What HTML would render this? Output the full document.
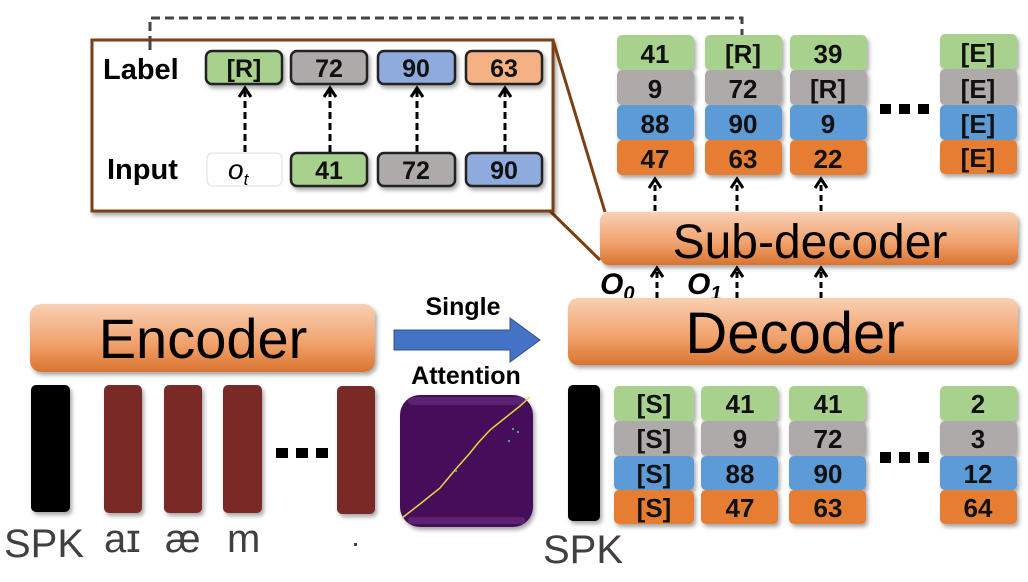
<!DOCTYPE html>
<html><head><meta charset="utf-8"><style>
html,body{margin:0;padding:0;background:#fff}
svg{display:block}
text{font-family:"Liberation Sans",sans-serif}
</style></head><body>
<svg width="1028" height="582" viewBox="0 0 1028 582" xmlns="http://www.w3.org/2000/svg">
<defs>
<linearGradient id="og" x1="0" y1="0" x2="0" y2="1">
<stop offset="0" stop-color="#f8d0b4"/><stop offset="0.6" stop-color="#f0a06a"/><stop offset="1" stop-color="#d9732f"/>
</linearGradient>
<filter id="sh" x="-10%" y="-10%" width="130%" height="140%"><feDropShadow dx="2" dy="3" stdDeviation="2" flood-opacity="0.35"/></filter>
<marker id="ah" markerWidth="14" markerHeight="16" refX="11" refY="8" orient="auto" markerUnits="userSpaceOnUse" viewBox="0 0 14 16">
<path d="M2,2 L11,8 L2,14" fill="none" stroke="#000" stroke-width="3"/></marker>
</defs>

<path d="M150,45 V18 H742 V35" fill="none" stroke="#444" stroke-width="3" stroke-dasharray="9,5"/>

<path d="M553,40 L605,212 L600,260 L550,211 H92 V40 Z" fill="#fff" stroke="none"/>
<path d="M550,211 L600,260" stroke="#7b3f12" stroke-width="3" fill="none"/>
<rect x="92" y="40" width="461" height="171" fill="#fff" stroke="#7b3f12" stroke-width="3" filter="url(#sh)"/>
<path d="M553,40 L605,212" stroke="#7b3f12" stroke-width="3"/>
<path d="M150,40 V50" stroke="#444" stroke-width="3"/>

<text x="103" y="79" font-size="29" font-weight="bold">Label</text>
<text x="107" y="179" font-size="29" font-weight="bold">Input</text>
<g stroke="#222" stroke-width="2.5">
<rect x="206" y="51" width="76" height="33" rx="6" fill="#a9d18e" filter="url(#sh)"/>
<rect x="291" y="51" width="76" height="33" rx="6" fill="#aeaaaa" filter="url(#sh)"/>
<rect x="378" y="51" width="77" height="33" rx="6" fill="#8faadc" filter="url(#sh)"/>
<rect x="466" y="51" width="76" height="33" rx="6" fill="#f4b183" filter="url(#sh)"/>
<rect x="207" y="153" width="75" height="33" rx="6" fill="#fff" stroke="#ddd" stroke-width="1"/>
<rect x="291" y="153" width="76" height="33" rx="6" fill="#a9d18e" filter="url(#sh)"/>
<rect x="378" y="153" width="77" height="33" rx="6" fill="#aeaaaa" filter="url(#sh)"/>
<rect x="466" y="153" width="76" height="33" rx="6" fill="#8faadc" filter="url(#sh)"/>
</g>
<g font-size="25" font-weight="bold" text-anchor="middle" fill="#111">
<text x="244" y="77">[R]</text><text x="329" y="77">72</text><text x="416" y="77">90</text><text x="504" y="77">63</text>
<text x="329" y="179">41</text><text x="416" y="179">72</text><text x="504" y="179">90</text>
</g>
<text x="228" y="179" font-size="28" font-style="italic" font-family="Liberation Serif,serif">o<tspan font-size="17" dy="6">t</tspan></text>
<g stroke="#000" stroke-width="3" stroke-dasharray="7,4" marker-end="url(#ah)">
<line x1="245" y1="152" x2="245" y2="88"/><line x1="330" y1="152" x2="330" y2="88"/>
<line x1="417" y1="152" x2="417" y2="88"/><line x1="505" y1="152" x2="505" y2="88"/>
</g>

<g filter="url(#sh)">
<g fill="#a9d18e"><rect x="617" y="35" width="77" height="35" rx="5"/><rect x="705" y="35" width="77" height="35" rx="5"/><rect x="790" y="35" width="77" height="35" rx="5"/><rect x="940" y="34" width="77" height="35" rx="5"/></g>
<g fill="#aeaaaa"><rect x="617" y="70" width="77" height="35" rx="5"/><rect x="705" y="70" width="77" height="35" rx="5"/><rect x="790" y="70" width="77" height="35" rx="5"/><rect x="940" y="69" width="77" height="36" rx="5"/></g>
<g fill="#5b9bd5"><rect x="617" y="105" width="77" height="35" rx="5"/><rect x="705" y="105" width="77" height="35" rx="5"/><rect x="790" y="105" width="77" height="35" rx="5"/><rect x="940" y="105" width="77" height="35" rx="5"/></g>
<g fill="#e57e30"><rect x="617" y="140" width="77" height="35" rx="5"/><rect x="705" y="140" width="77" height="35" rx="5"/><rect x="790" y="140" width="77" height="35" rx="5"/><rect x="940" y="140" width="77" height="34" rx="5"/></g>
</g>
<g font-size="26" font-weight="bold" text-anchor="middle" fill="#111">
<text x="655" y="63">41</text><text x="743" y="63">[R]</text><text x="828" y="63">39</text><text x="978" y="62">[E]</text>
<text x="655" y="98">9</text><text x="743" y="98">72</text><text x="828" y="98">[R]</text><text x="978" y="98">[E]</text>
<text x="655" y="133">88</text><text x="743" y="133">90</text><text x="828" y="133">9</text><text x="978" y="133">[E]</text>
<text x="655" y="168">47</text><text x="743" y="168">63</text><text x="828" y="168">22</text><text x="978" y="167">[E]</text>
</g>
<g fill="#000"><rect x="880" y="104" width="11" height="10"/><rect x="899" y="104" width="11" height="10"/><rect x="918" y="104" width="11" height="10"/></g>

<g stroke="#000" stroke-width="3" stroke-dasharray="6,4" marker-end="url(#ah)">
<line x1="655" y1="211" x2="655" y2="179"/><line x1="737" y1="211" x2="737" y2="179"/><line x1="821" y1="211" x2="821" y2="179"/>
<line x1="657" y1="298" x2="657" y2="268"/><line x1="737" y1="298" x2="737" y2="268"/><line x1="821" y1="298" x2="821" y2="268"/>
</g>

<rect x="600" y="212" width="418" height="53" rx="9" fill="url(#og)" filter="url(#sh)"/>
<text x="810" y="258" font-size="48" text-anchor="middle" fill="#000">Sub-decoder</text>
<text x="600" y="294" font-size="30" font-weight="bold" font-style="italic" font-family="Liberation Serif,serif">O<tspan font-size="20" dy="6">0</tspan></text>
<text x="687" y="294" font-size="30" font-weight="bold" font-style="italic" font-family="Liberation Serif,serif">O<tspan font-size="20" dy="6">1</tspan></text>

<rect x="568" y="298" width="450" height="67" rx="10" fill="url(#og)" filter="url(#sh)"/>
<text x="795" y="353" font-size="58" text-anchor="middle" fill="#000">Decoder</text>

<rect x="30" y="304" width="345" height="68" rx="11" fill="url(#og)" filter="url(#sh)"/>
<text x="203" y="358" font-size="56" text-anchor="middle" fill="#000">Encoder</text>

<path d="M394,330 H510 V318 L540,340 L510,362 V350 H394 Z" fill="#4472c4" stroke="#2f528f" stroke-width="1"/>
<text x="463" y="315" font-size="25" font-weight="bold" text-anchor="middle">Single</text>
<text x="466" y="384" font-size="25" font-weight="bold" text-anchor="middle">Attention</text>

<g filter="url(#sh)">
<rect x="31" y="385" width="39" height="127" rx="5" fill="#000"/>
<rect x="104" y="385" width="38" height="128" rx="5" fill="#7a2a26"/>
<rect x="164" y="385" width="38" height="128" rx="5" fill="#7a2a26"/>
<rect x="223" y="385" width="39" height="128" rx="5" fill="#7a2a26"/>
<rect x="337" y="386" width="38" height="128" rx="5" fill="#7a2a26"/>
<rect x="568" y="385" width="32" height="136" rx="5" fill="#000"/>
</g>
<g fill="#000"><rect x="276" y="448" width="12" height="10"/><rect x="296" y="448" width="12" height="10"/><rect x="316" y="448" width="12" height="10"/></g>
<g font-size="40" fill="#404040">
<text x="4" y="557">SPK</text><text x="104" y="552">aɪ</text><text x="165" y="552">æ</text><text x="227" y="552">m</text>
<text x="543" y="563">SPK</text>
</g>
<rect x="354" y="543" width="3" height="3" fill="#404040"/>

<rect x="400" y="395" width="133" height="132" rx="20" fill="#440a5a" filter="url(#sh)"/>
<rect x="408" y="397" width="117" height="8" rx="4" fill="#6a2f82" opacity="0.6"/>
<rect x="408" y="517" width="117" height="7" rx="3" fill="#6a2f82" opacity="0.6"/>
<path d="M402,518 L420,504 L440,488 L455,470 L470,453 L478,443 L490,430 L505,418 L520,406 L530,397" fill="none" stroke="#e8d83a" stroke-width="1.5"/>
<g fill="#3cb07a"><rect x="512" y="428" width="2" height="2"/><rect x="517" y="431" width="2" height="2"/><rect x="508" y="440" width="2" height="2"/><rect x="455" y="470" width="2" height="2"/></g>

<g filter="url(#sh)">
<g fill="#a9d18e"><rect x="614" y="386" width="80" height="35" rx="5"/><rect x="701" y="386" width="77" height="35" rx="5"/><rect x="789" y="386" width="77" height="35" rx="5"/><rect x="940" y="386" width="77" height="35" rx="5"/></g>
<g fill="#aeaaaa"><rect x="614" y="421" width="80" height="35" rx="5"/><rect x="701" y="421" width="77" height="35" rx="5"/><rect x="789" y="421" width="77" height="35" rx="5"/><rect x="940" y="421" width="77" height="35" rx="5"/></g>
<g fill="#5b9bd5"><rect x="614" y="456" width="80" height="34" rx="5"/><rect x="701" y="456" width="77" height="34" rx="5"/><rect x="789" y="456" width="77" height="34" rx="5"/><rect x="940" y="456" width="77" height="34" rx="5"/></g>
<g fill="#e57e30"><rect x="614" y="490" width="80" height="34" rx="5"/><rect x="701" y="490" width="77" height="34" rx="5"/><rect x="789" y="490" width="77" height="34" rx="5"/><rect x="940" y="490" width="77" height="34" rx="5"/></g>
</g>
<g font-size="26" font-weight="bold" text-anchor="middle" fill="#111">
<text x="654" y="413">[S]</text><text x="740" y="413">41</text><text x="828" y="413">41</text><text x="978" y="413">2</text>
<text x="654" y="448">[S]</text><text x="740" y="448">9</text><text x="828" y="448">72</text><text x="978" y="448">3</text>
<text x="654" y="483">[S]</text><text x="740" y="483">88</text><text x="828" y="483">90</text><text x="978" y="483">12</text>
<text x="654" y="517">[S]</text><text x="740" y="517">47</text><text x="828" y="517">63</text><text x="978" y="517">64</text>
</g>
<g fill="#000"><rect x="880" y="452" width="11" height="11"/><rect x="899" y="452" width="11" height="11"/><rect x="918" y="452" width="11" height="11"/></g>
</svg>
</body></html>
